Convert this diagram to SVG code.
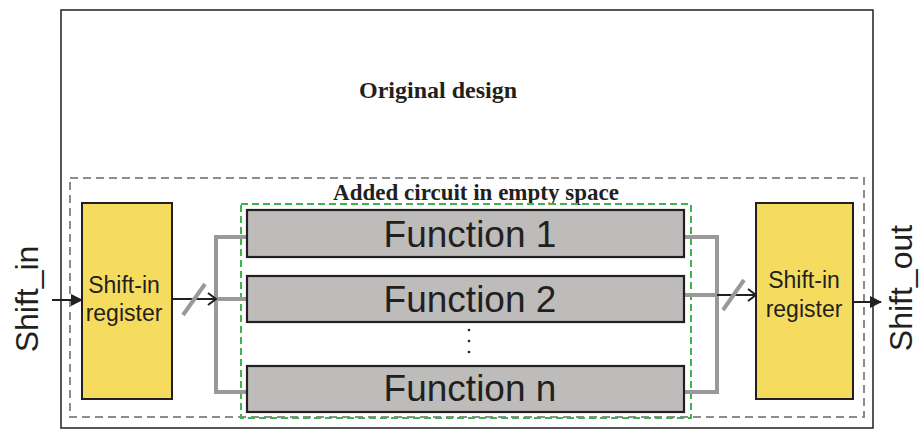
<svg xmlns="http://www.w3.org/2000/svg" width="920" height="430" viewBox="0 0 920 430">
<defs>
<style>
.serif{font-family:"Liberation Serif","Times New Roman",serif;font-weight:bold;fill:#231f20}
.sans{font-family:"Liberation Sans",Arial,sans-serif;fill:#231f20}
.reg{fill:#f5dc5f;stroke:#231f20;stroke-width:2}
.fn{fill:#bdbcbb;stroke:#231f20;stroke-width:2.2}
.bus{fill:none;stroke:#999999;stroke-width:4}
.wire{fill:none;stroke:#231f20;stroke-width:2}
.slash{stroke:#999999;stroke-width:4}
.dot{fill:#231f20}
</style>
<marker id="fill" markerWidth="12" markerHeight="12" refX="11" refY="6" orient="auto" markerUnits="userSpaceOnUse">
<path d="M0,0 L12,6 L0,12 Z" fill="#231f20"/>
</marker>
<marker id="open" markerWidth="12" markerHeight="14" refX="10" refY="7" orient="auto" markerUnits="userSpaceOnUse">
<path d="M2,1 L10,7 L2,13" fill="none" stroke="#231f20" stroke-width="2"/>
</marker>
</defs>
<rect width="920" height="430" fill="#ffffff"/>
<g id="original">
<rect x="61" y="10" width="812" height="418" fill="none" stroke="#231f20" stroke-width="1.5"/>
<text class="serif" x="438" y="98" font-size="24" text-anchor="middle">Original design</text>
</g>
<g id="added">
<rect x="70" y="178" width="794" height="239" fill="none" stroke="#8c8c8c" stroke-width="2" stroke-dasharray="8,5"/>
<text class="serif" x="476" y="200" font-size="23" text-anchor="middle">Added circuit in empty space</text>
</g>
<g id="green">
<rect x="241" y="204" width="450" height="214" fill="none" stroke="#3bb54a" stroke-width="2" stroke-dasharray="7,4"/>
</g>
<g id="connectors">
<path class="bus" d="M247,237 H216 V392 H247 M216,299 H247"/>
<path class="bus" d="M684,237 H717 V392 H684 M684,295 H717"/>
<line class="wire" x1="52" y1="300" x2="82" y2="300" marker-end="url(#fill)"/>
<line class="wire" x1="172" y1="299" x2="216" y2="299" marker-end="url(#open)"/>
<line class="slash" x1="183" y1="315" x2="205" y2="284"/>
<line class="wire" x1="717" y1="295" x2="756" y2="295" marker-end="url(#open)"/>
<line class="slash" x1="723" y1="310" x2="744" y2="280"/>
<line class="wire" x1="853" y1="302" x2="881" y2="302" marker-end="url(#fill)"/>
</g>
<g id="shift_in_reg">
<rect class="reg" x="82" y="203" width="90" height="196"/>
<text class="sans" x="124" y="293" font-size="23" text-anchor="middle">Shift-in</text>
<text class="sans" x="124" y="321" font-size="23" text-anchor="middle">register</text>
</g>
<g id="shift_out_reg">
<rect class="reg" x="756" y="203" width="97" height="196"/>
<text class="sans" x="804" y="288" font-size="23" text-anchor="middle">Shift-in</text>
<text class="sans" x="804" y="317" font-size="23" text-anchor="middle">register</text>
</g>
<g id="function1">
<rect class="fn" x="247" y="210" width="437" height="47"/>
<text class="sans" x="470" y="247" font-size="37" text-anchor="middle">Function 1</text>
</g>
<g id="function2">
<rect class="fn" x="247" y="276" width="437" height="46"/>
<text class="sans" x="470" y="312" font-size="37" text-anchor="middle">Function 2</text>
</g>
<g id="dots">
<circle class="dot" cx="469" cy="330" r="1.3"/>
<circle class="dot" cx="469" cy="341" r="1.3"/>
<circle class="dot" cx="469" cy="352" r="1.3"/>
</g>
<g id="functionn">
<rect class="fn" x="247" y="366" width="437" height="46"/>
<text class="sans" x="470" y="401" font-size="37" text-anchor="middle">Function n</text>
</g>
<g id="shift_in_label">
<text class="sans" transform="translate(38,299) rotate(-90)" font-size="32" text-anchor="middle">Shift_in</text>
</g>
<g id="shift_out_label">
<text class="sans" transform="translate(912,288) rotate(-90)" font-size="32" text-anchor="middle">Shift_out</text>
</g>
</svg>
